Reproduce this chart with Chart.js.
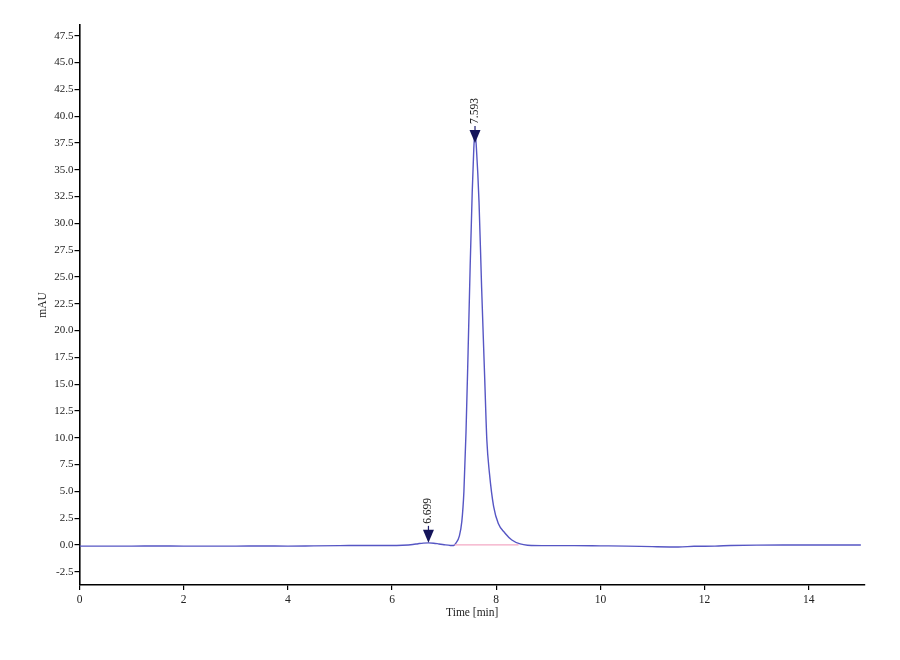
<!DOCTYPE html>
<html>
<head>
<meta charset="utf-8">
<title>Chromatogram</title>
<script src="https://cdn.jsdelivr.net/npm/chart.js@4/dist/chart.umd.min.js"></script>
<style>
    html, body { margin: 0; padding: 0; background: #fff; }
    #wrap { width: 900px; height: 660px; position: relative; }
</style>
</head>
<body>
<div id="wrap"><canvas id="chart"></canvas></div>
<script>
// signal trace (time in min, signal in mAU)
const traceTime = [
    0, 0.5, 1, 1.5, 2, 2.5, 3, 3.5, 4, 4.5, 5, 5.5, 6, 6.2, 6.4, 6.5, 6.6,
    6.699, 6.8, 6.9, 7.0, 7.12, 7.18, 7.23, 7.29, 7.34, 7.38, 7.42, 7.46, 7.5,
    7.54, 7.57, 7.593, 7.62, 7.67, 7.72, 7.78, 7.82, 7.87, 7.95, 8.04, 8.17,
    8.3, 8.46, 8.6, 9, 9.5, 10, 10.5, 11, 11.5, 11.8, 12.2, 12.5, 13, 13.5, 14, 14.5, 15
];
const traceSignal = [
    -0.1, -0.1, -0.1, -0.09, -0.1, -0.1, -0.1, -0.09, -0.1, -0.08, -0.06, -0.04, -0.05, -0.02, 0.05, 0.12, 0.18,
    0.2, 0.17, 0.1, 0.03, -0.04, -0.05, 0.2, 0.8, 2.2, 5.0, 10.5, 18, 26,
    33, 37, 38.6, 37, 32, 24, 15.4, 9.8, 6.7, 3.6, 2.0, 1.1,
    0.47, 0.1, -0.02, -0.06, -0.06, -0.08, -0.1, -0.15, -0.18, -0.12, -0.1, -0.05, -0.01, 0.0, 0.0, 0.0, 0.0
];

// integration baseline under the main peak
const baselineTime = [7.2, 8.43];
const baselineSignal = [0.02, 0.02];

// peak markers
const peakTimes = [6.699, 7.593];
const peakArrowTips = [0.2, 37.5];
const peakLabels = ['6.699', '7.593'];

const xTicks = [0, 2, 4, 6, 8, 10, 12, 14];

const serif = '"Liberation Serif", "DejaVu Serif", serif';

const peakMarkers = {
    id: 'peakMarkers',
    afterDatasetsDraw(chart) {
        const { ctx, scales } = chart;
        peakTimes.forEach((t, i) => {
            const x = scales.x.getPixelForValue(t);
            const y = scales.y.getPixelForValue(peakArrowTips[i]);
            ctx.save();
            // stem + filled arrow head
            ctx.strokeStyle = '#1a1a6e';
            ctx.lineWidth = 1.2;
            ctx.beginPath();
            ctx.moveTo(x, y - 17);
            ctx.lineTo(x, y - 12);
            ctx.stroke();
            ctx.fillStyle = '#14145a';
            ctx.beginPath();
            ctx.moveTo(x, y);
            ctx.lineTo(x - 5.5, y - 13);
            ctx.lineTo(x + 5.5, y - 13);
            ctx.closePath();
            ctx.fill();
            // rotated label
            ctx.translate(x, y - 19);
            ctx.rotate(-Math.PI / 2);
            ctx.fillStyle = '#222';
            ctx.font = '11.5px ' + serif;
            ctx.textAlign = 'left';
            ctx.textBaseline = 'middle';
            ctx.fillText(peakLabels[i], 0, 0);
            ctx.restore();
        });
    },
};

new Chart(document.getElementById('chart'), {
    type: 'line',
    data: {
        datasets: [
            {
                label: 'baseline',
                data: baselineTime.map((t, i) => ({ x: t, y: baselineSignal[i] })),
                borderColor: '#f3a9c4',
                borderWidth: 1.2,
                pointRadius: 0,
                tension: 0,
            },
            {
                label: 'signal',
                data: traceTime.map((t, i) => ({ x: t, y: traceSignal[i] })),
                borderColor: '#5656c4',
                borderWidth: 1.4,
                pointRadius: 0,
                cubicInterpolationMode: 'monotone',
            },
        ],
    },
    options: {
        responsive: true,
        maintainAspectRatio: false,
        animation: false,
        layout: {
            padding: { top: 25, right: 35, bottom: 0, left: 0 },
        },
        plugins: {
            legend: { display: false },
            tooltip: { enabled: false },
        },
        scales: {
            x: {
                type: 'linear',
                min: 0,
                max: 15.08,
                afterBuildTicks: scale => {
                    scale.ticks = xTicks.map(v => ({ value: v }));
                },
                afterFit: scale => { scale.height = 75; },
                grid: {
                    display: true,
                    drawOnChartArea: false,
                    drawTicks: true,
                    tickLength: 5,
                    color: '#000',
                    lineWidth: 1.2,
                },
                border: { color: '#000', width: 1.6 },
                ticks: {
                    color: '#222',
                    padding: 3,
                    font: { family: serif, size: 11.5 },
                    maxRotation: 0,
                },
                title: {
                    display: true,
                    text: 'Time [min]',
                    color: '#222',
                    font: { family: serif, size: 11.5 },
                    padding: { top: 0, bottom: 40 },
                },
            },
            y: {
                type: 'linear',
                min: -3.73,
                max: 48.5,
                afterBuildTicks: scale => {
                    const ticks = [];
                    for (let v = -2.5; v <= 47.5; v += 2.5) ticks.push({ value: v });
                    scale.ticks = ticks;
                },
                afterFit: scale => { scale.width = 79.5; },
                grid: {
                    display: true,
                    drawOnChartArea: false,
                    drawTicks: true,
                    tickLength: 5,
                    color: '#000',
                    lineWidth: 1.2,
                },
                border: { color: '#000', width: 1.6 },
                ticks: {
                    color: '#222',
                    padding: 1,
                    font: { family: serif, size: 11 },
                    callback: v => v.toFixed(1),
                },
                title: {
                    display: true,
                    text: 'mAU',
                    color: '#222',
                    font: { family: serif, size: 11.5 },
                    padding: { top: 36, bottom: 0 },
                },
            },
        },
    },
    plugins: [peakMarkers],
});
</script>
</body>
</html>
